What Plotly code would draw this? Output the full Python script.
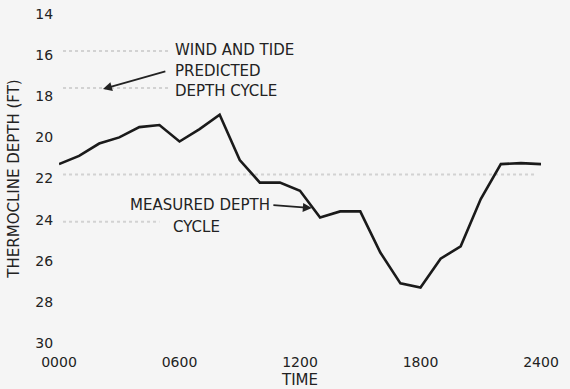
import plotly.graph_objects as go

# Hour of day and measured thermocline depth (ft)
hours = list(range(0, 25))
measured_depth = [21.3, 20.9, 20.3, 20.0, 19.5, 19.4, 20.2, 19.6, 18.9, 21.1,
                  22.2, 22.2, 22.6, 23.9, 23.6, 23.6, 25.6, 27.1, 27.3, 25.9,
                  25.3, 23.0, 21.3, 21.25, 21.3]

# Faint dotted traces of the wind-and-tide predicted cycle
pred_depths = [15.8, 17.6, 21.8, 24.1]
pred_start = [0.2, 0.2, 0.2, 0.2]
pred_end = [5.5, 5.5, 23.8, 5.0]

y_ticks = [14, 16, 18, 20, 22, 24, 26, 28, 30]
x_ticks = [0, 6, 12, 18, 24]
x_labels = ["0000", "0600", "1200", "1800", "2400"]

FONT = "DejaVu Sans"
INK = "#222222"

fig = go.Figure()

for d, s, e in zip(pred_depths, pred_start, pred_end):
    fig.add_trace(go.Scatter(
        x=[s, e], y=[d, d], mode="lines",
        line=dict(color="#d2d2d2", width=2, dash="dot"),
        hoverinfo="skip", showlegend=False))

fig.add_trace(go.Scatter(
    x=hours, y=measured_depth, mode="lines",
    line=dict(color="#1a1a1a", width=2.6),
    showlegend=False))

txt = dict(family=FONT, size=15, color=INK)

# Predicted cycle label and arrow
for label, depth in zip(["WIND AND TIDE", "PREDICTED", "DEPTH CYCLE"],
                        [15.75, 16.77, 17.75]):
    fig.add_annotation(x=5.67, y=depth, text=label, showarrow=False,
                       xanchor="left", yanchor="middle", font=txt)
fig.add_annotation(x=2.19, y=17.65, ax=5.37, ay=16.77,
                   axref="x", ayref="y", xref="x", yref="y",
                   text="", showarrow=True, arrowhead=2, arrowsize=1,
                   arrowwidth=1.8, arrowcolor=INK)

# Measured cycle label and arrow
fig.add_annotation(x=10.6, y=23.29, text="MEASURED DEPTH", showarrow=False,
                   xanchor="right", yanchor="middle", font=txt)
fig.add_annotation(x=6.87, y=24.36, text="CYCLE", showarrow=False,
                   xanchor="center", yanchor="middle", font=txt)
fig.add_annotation(x=12.59, y=23.44, ax=10.6, ay=23.29,
                   axref="x", ayref="y", xref="x", yref="y",
                   text="", showarrow=True, arrowhead=2, arrowsize=1,
                   arrowwidth=1.8, arrowcolor=INK)

fig.update_layout(
    width=570, height=389,
    margin=dict(l=59, r=29, t=14, b=46),
    paper_bgcolor="#f5f5f5", plot_bgcolor="#f5f5f5",
    font=dict(family=FONT, size=14, color=INK),
    xaxis=dict(range=[0, 24], tickvals=x_ticks, ticktext=x_labels,
               automargin=False,
               showgrid=False, zeroline=False, showline=False,
               ticks="outside", ticklen=6, tickcolor="rgba(0,0,0,0)",
               tickfont=dict(family=FONT, size=14, color=INK),
               title=dict(text="TIME", standoff=10,
                          font=dict(family=FONT, size=15, color=INK))),
    yaxis=dict(range=[30, 14], tickvals=y_ticks,
               automargin=False,
               showgrid=False, zeroline=False, showline=False,
               ticks="outside", ticklen=2, tickcolor="rgba(0,0,0,0)",
               tickfont=dict(family=FONT, size=14, color=INK),
               title=dict(text="THERMOCLINE DEPTH (FT)", standoff=12,
                          font=dict(family=FONT, size=15, color=INK))),
)

fig.write_html("out.html")
